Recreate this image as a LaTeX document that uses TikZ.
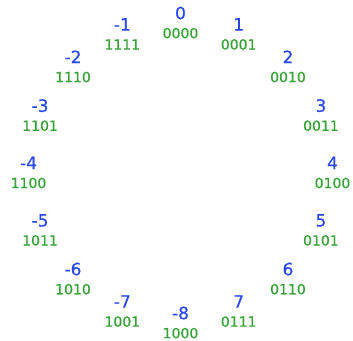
\documentclass[tikz,border=0pt]{standalone}
\usepackage{fontspec}
\setmainfont{DejaVu Sans}[FakeBold=0.5]
\definecolor{numblue}{RGB}{40,72,232}
\definecolor{bingreen}{RGB}{52,162,52}
\tikzset{
  pair/.style={align=center, inner sep=0pt, font={\fontsize{14.5}{19}\selectfont}},
}
\newcommand{\numtxt}[1]{{\color{numblue}\fontsize{17}{19}\selectfont #1}}
\newcommand{\bintxt}[1]{{\color{bingreen}\fontsize{14}{19}\selectfont #1}}
\begin{document}
\begin{tikzpicture}[x=1pt,y=-1pt]
\useasboundingbox (0,0) rectangle (353,340);
\foreach \v/\b [count=\i from 0] in {0/0000,1/0001,2/0010,3/0011,4/0100,5/0101,6/0110,7/0111,-8/1000,-7/1001,-6/1010,-5/1011,-4/1100,-3/1101,-2/1110,-1/1111}{
  \pgfmathsetmacro\ang{90-22.5*\i}
  \node[pair] (p\i) at ({180.5+152*cos(\ang)},{172.5-150*sin(\ang)}) {\numtxt{\v}\\\bintxt{\b}};
}
\end{tikzpicture}
\end{document}
